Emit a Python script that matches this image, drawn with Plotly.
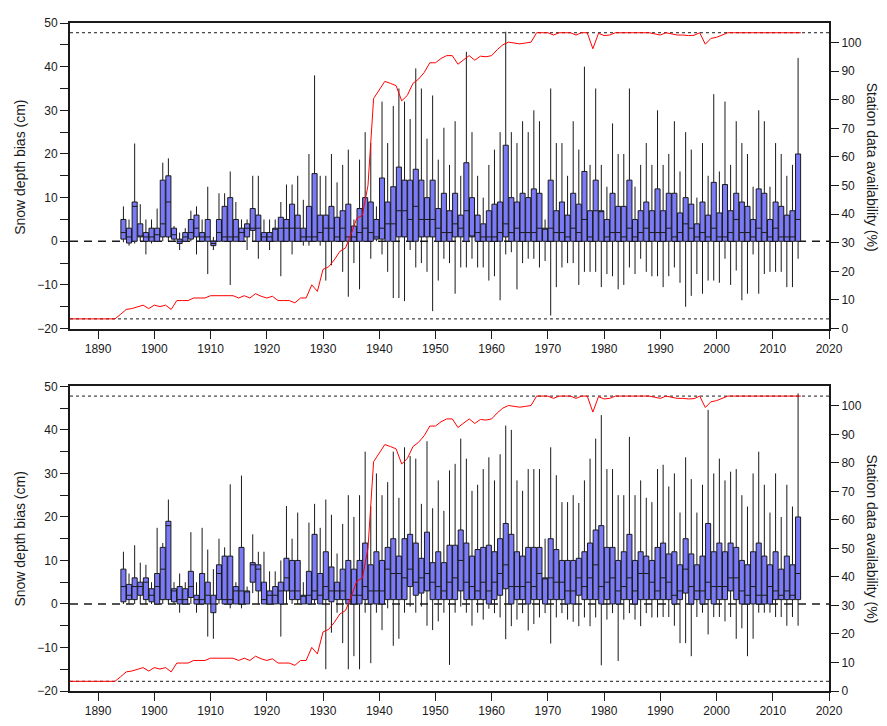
import plotly.graph_objects as go

# ---------------- data ----------------
seasons = list(range(1895, 2016))  # 121 winter seasons (box centred half a year earlier)

top_q3 = [5, 3, 9, 4, 2, 3, 3, 14, 15, 3, 0.5, 2, 5, 6, 2, 5, 0, 5, 8, 10, 5, 3, 4, 7.5, 6, 2, 2, 3, 5.5, 5, 8.5, 6,
          3, 8, 15.5, 6, 6, 8, 5.5, 7, 8.5, 3.5, 7.5, 10, 9, 5, 14.5, 9, 12.5, 17, 14, 14, 16.5, 14, 10, 14, 7.5, 11, 7, 11, 6, 18, 10,
          6, 4, 7, 8.5, 9, 22, 10, 9, 11, 10, 12, 11, 3, 14, 7, 9, 6, 11, 8.5, 16, 7, 14, 7, 5, 11, 8, 8, 14, 5, 7, 9, 7, 12,
          7, 11, 11, 6.5, 10, 8.5, 4, 9, 6, 13.5, 6.5, 13, 7, 11, 9, 8, 5, 12, 11, 5, 9, 8, 6, 7, 20]
top_q1 = [0.5, -0.4, 0, 1, 0, 0, 0, 1, 1, 0.5, -0.5, 0, 0.5, 1, 0, 0, -1, 0, 0, 0, 0, 0, 1, 2.5, 0, 0, 0, 0, 0, 0, 0, 0,
          0, 0, 0, 0, 0, 0, 0, 0, 0, 0, 0, 0, 0, 0.5, 0.5, 0, 0, 1, 1, 0, 0, 1, 1, 1, 0, 0, 0, 1, 1, 0, 1,
          0, 0, 0, 0, 0, 1, 0, 0, 0, 0, 0, 0, 0, 0, 0, 0, 0, 0, 0, 0, 0, 0, 0, 0, 0, 0, 0, 0, 0, 0, 0, 0, 0,
          0, 0, 0, 0, 0, 0, 0, 0, 0, 0, 0, 0, 0, 0, 0, 0, 0, 0, 0, 0, 0, 0, 0, 0, 0]
top_med = [2, 1, 8, 1, 1, 1, 1.5, 4, 9, 1.5, 0, 1, 2, 3, 1, 1, -0.5, 2, 1, 1, 1, 2, 3, 3, 3, 1, 1, 3, 3, 3, 3, 3,
           1, 1, 1, 2, 3, 3, 1, 3, 1, 1, 2, 3, 2, 1, 3, 4, 4, 7, 7, 5, 8, 5, 5, 5, 3, 2, 2, 4, 3, 7, 1,
           2, 1, 1, 1, 2, 4, 2, 3, 2, 2, 2, 3, 3, 3, 2, 2, 1, 3, 2, 5, 1, 7, 7, 1, 2, 2, 1, 3, 1, 2, 3, 2, 2,
           2, 3, 1, 2, 4, 3, 1, 2, 1, 3, 1, 1, 2, 5, 2, 2, 1, 3, 2, 1, 3, 1, 1, 1, 5]
top_hi = [8, 5, 22.4, 8.5, 5, 5, 7.5, 18, 19, 3.5, 2, 3, 7, 8, 5, 12.5, 1, 11, 11, 16, 9, 5, 5, 15, 15, 5, 5, 5, 9, 13, 13, 15,
          9.5, 20, 38, 15, 15, 20, 13.5, 17.5, 21, 5, 18.7, 25, 22.5, 8, 32, 22.5, 31, 35, 32, 28, 39.6, 35, 23.5, 33.4, 18.7, 26, 17.5, 27.5, 15, 43.4, 25,
          15, 10, 17.5, 21, 25, 48, 25, 22.5, 27.5, 25, 30, 27.5, 5, 35, 22.5, 22.5, 15, 27.5, 21, 40, 17.5, 35, 17.5, 12.5, 27, 20, 20, 35, 12.5, 17.5, 22.5, 17.5, 30,
          17.5, 20, 27.5, 16, 25, 21, 10, 22.5, 15, 33.7, 16, 32, 17.5, 27.5, 22.5, 20, 12.5, 30, 27.5, 12.5, 22.5, 20, 15, 17.5, 42]
top_lo = [-0.2, -1, -0.5, 0, -3, -0.5, 0, 0, 0, 0, -2, 0, 0, -3, 0, -7.5, -2, 0, 0, -10, 0, 0, -2, 0, -4, 0, -2, 0, -8, 0, -3, 0,
          -1, -1, 0, -1, -9, -5.5, 0, -7, -12.7, -5, -11, 0, -4, 0, -3, -7, -13, -13, -13.7, -2, -6, -5, -7, -16, -9, -4, -5, -12, -6, -6, -4,
          -6, -6, -9, -8, -13.5, -3, -2.5, -11, -5, -4, -4, -6, -4.5, -17, -10.5, -6, -5, -5, -10, -7, -7, -7, -10.5, -7.5, -8, -11, -10, -6, -7.5, -4, -7, -8, -8,
          -10.5, -8, -6, -9.5, -15, -12.5, -7.5, -12, -9, -9, -9.5, -4, -10, -6.7, -13.5, -12, -3, -12, -7.5, -7, -7, -7, -10.5, -10.5, -4]

bot_q3 = [8, 4.5, 6, 5, 6, 3.5, 7, 13, 19, 3.5, 4, 3.5, 7.5, 2, 7, 5, 2, 9, 11, 11, 4, 13, 3, 9.5, 9, 5, 3, 4, 5, 10.5, 10, 10,
          2, 7.5, 16, 7, 12, 8.5, 5, 8, 10, 8, 10, 14, 9, 12, 10, 13, 15, 11, 15, 16, 14, 10.5, 16.5, 9.5, 12, 9.5, 13.5, 13.5, 17, 14, 11,
          12.5, 13, 13.5, 12, 15, 18.5, 16, 12, 11, 13, 13, 13, 6, 15, 12.5, 10, 10, 10, 10.5, 12, 14, 17, 18, 13, 13, 10, 12, 16, 10, 12, 11, 10, 13,
          14, 11.5, 12, 9, 15, 11.5, 9, 11, 18.5, 12, 14, 12, 14, 13, 10, 9, 12, 14, 11, 9, 12, 8, 11, 9, 20]
bot_q1 = [0.5, 1, 1, 2, 1, 0.5, 0, 1, 1, 0.5, 0, 0, 1.5, 0, 0, 0, -2, 1, 0, 0, 0, 0, 0, 5, 3, 0, 0, 0, 0, 3, 1, 1,
          0, 0, 1, 0, 1, 0.5, 1, 1, 0, 0, 0, 1, 0, 0, 0, 1, 1, 1, 1, 4, 2, 2.5, 3, 1, 1, 1, 1, 1, 3, 1, 1,
          1, 1, 0, 1, 2, 3.5, 0, 1, 1, 0, 1, 1, 0, 1, 1, 1, 0, 0, 2, 1, 1, 1, 0, 1, 0, 0, 1, 1, 0, 1, 1, 1, 1,
          1, 1, 0, 1, 2.5, 0, 1, 0, 1, 0, 1, 1, 3, 1, 0, 0, 0, 0, 0, 0, 1, 1, 1, 1, 1]
bot_med = [4, 2, 4, 4, 5, 2, 4, 8, 18, 3, 1, 1, 4, 1, 1, 2, 0, 7, 1, 1, 3, 3, 3, 9, 8, 1, 2, 2, 3, 6, 3, 3,
           2, 2, 3, 2, 4, 3, 3, 3, 1, 2, 2, 4, 3, 3, 3, 8, 7, 7, 6, 8, 5, 6, 7, 5, 4, 3, 5, 6, 10, 5, 4,
           3, 5, 3, 5, 7, 9, 4, 4, 4, 5, 4, 7, 6, 6, 5, 5, 3, 3, 6, 4, 6, 9, 4, 5, 6, 3, 4, 6, 3, 7, 7, 5, 3,
           6, 5, 2, 3, 8, 4, 3, 3, 5, 4, 4, 4, 6, 6, 3, 2, 4, 2, 2, 4, 3, 2, 3, 2, 7]
bot_hi = [12, 7, 13.5, 9.5, 9, 5, 17.5, 14, 24, 5, 7, 5, 16.5, 5, 17.5, 12.5, 8, 15, 13, 27.5, 5, 29.5, 4, 16, 12, 12, 7.5, 7.5, 10, 22.5, 15, 21,
          5, 18.7, 23, 17.5, 24, 20.5, 11.6, 18.4, 25, 20, 25, 35, 22.4, 30, 25, 28, 35, 24.4, 36, 34, 33.4, 23, 37.4, 22, 28.4, 21.4, 30.7, 32.2, 38, 33.4, 26,
          27.4, 31, 33.7, 28.4, 34.4, 41, 40, 28.4, 26, 31, 31, 31, 15, 36, 29.6, 23.4, 23.4, 25, 23.2, 28.4, 33.4, 38, 43.4, 31, 31, 25, 25, 38.4, 25, 28.4, 24.4, 23.4, 31,
          32, 27, 30, 21, 33.7, 28.7, 21, 27.4, 44.6, 30, 33.4, 28.4, 30.4, 31, 25, 22.4, 30, 35, 27.4, 21, 30, 20, 27.4, 22.4, 48.4]
bot_lo = [0, 0, 0, 0, 0, 0, 0, 0, 0, 0, -2, 0, 0, -2, 0, -7.5, -8, 0, 0, -1, 0, -1, 0, 2.5, 0, 0, 0, 0, -7.5, 0, 0, 0,
          0, 0, 0, 0, -15, -6.6, -2, -9, -15, -12, -15, -2, -13.6, -2, -6, -1, -9.6, -8, -2, -0.6, -2, -0.6, -5, -6, -4, -2, -14, -2, -0.6, -2, -5,
          -2, -3.6, -1.1, -2.1, -3.1, -8.1, -5.1, -3.6, -2.1, -6.1, -4.6, -3.1, -2.1, -9.1, -3.1, -2.1, -3.6, -4.1, -5.1, -3.1, -5.1, -3.1, -14.1, -3.6, -2.1, -13.1, -3.6, -2.1, -3.6, -5.1, -2.1, -3.1, -3.1,
          -3, -3, -5, -9, -9, -12, -3, -2, -7, -3, -3, -4, -3, -8, -5.6, -12, -8, -2, -2, -2, -3, -3, -5, -3, -5]

avail_years = list(range(1885, 2016))
availability = [3.4, 3.4, 3.4, 3.4, 3.4, 3.4, 3.4, 3.4, 3.4,
                5.0, 6.7, 7.0, 7.5, 8.2, 7.0, 8.2, 7.7, 8.2, 6.7,
                9.8, 9.8, 9.8, 10.7, 10.7, 10.7, 11.5, 11.5, 11.5, 11.5,
                11.5, 10.7, 11.5, 10.7, 12.2, 11.3, 10.7, 11.3, 9.8, 9.8,
                9.8, 9.0, 10.7, 10.7, 15.3, 13.0, 20.7, 21.6, 24.0, 27.0,
                28.2, 33.0, 38.5, 39.6, 50.0, 80.4, 83.5, 86.4, 85.7, 84.9,
                79.6, 81.5, 85.7, 87.2, 89.5, 92.9, 92.9, 94.4, 95.4, 95.4,
                92.4, 93.8, 95.4, 93.8, 95.2, 95.0, 95.4, 97.5, 99.2, 100.1,
                99.8, 99.5, 99.8, 100.1, 103.4, 103.4, 103.4, 102.6, 103.4, 103.4,
                103.4, 102.6, 103.4, 103.4, 97.8, 103.2, 102.4, 102.6, 103.4, 103.4,
                103.4, 103.4, 103.4, 103.4, 103.4, 103.0, 102.6, 103.4, 103.0, 102.6,
                102.6, 102.4, 102.5, 103.4, 99.4, 101.4, 101.8, 102.6, 103.4, 103.4,
                103.4, 103.4, 103.4, 103.4, 103.4, 103.4, 103.4, 103.4, 103.4, 103.4, 103.4, 103.4]

x_ticks = list(range(1890, 2021, 10))
left_ticks = list(range(-20, 51, 10))
right_ticks = list(range(0, 101, 10))
ref_levels = [3.4, 103.4]   # dotted reference lines (availability axis)

# ---------------- figure ----------------
FONT = "Liberation Sans, Arial, Helvetica, sans-serif"
BOX_FILL = "rgb(122,122,246)"
INK = "#1a1a1a"
box_x = [s - 0.5 for s in seasons]

fig = go.Figure()

panels = [
    dict(q3=top_q3, q1=top_q1, med=top_med, hi=top_hi, lo=top_lo, xa="x", ya="y", ya2="y2"),
    dict(q3=bot_q3, q1=bot_q1, med=bot_med, hi=bot_hi, lo=bot_lo, xa="x2", ya="y3", ya2="y4"),
]

for p in panels:
    fig.add_trace(go.Box(
        x=box_x, q1=p["q1"], median=p["med"], q3=p["q3"],
        lowerfence=p["lo"], upperfence=p["hi"],
        width=0.9, whiskerwidth=0, boxpoints=False,
        fillcolor=BOX_FILL, line=dict(color=INK, width=1),
        xaxis=p["xa"], yaxis=p["ya"], showlegend=False, hoverinfo="skip"))
    fig.add_trace(go.Scatter(
        x=avail_years, y=availability, mode="lines",
        line=dict(color="red", width=1),
        xaxis=p["xa"], yaxis=p["ya2"], showlegend=False, hoverinfo="skip"))
    # dashed zero line on bias axis
    fig.add_shape(type="line", xref=p["xa"] + " domain", yref=p["ya"],
                  x0=0, x1=1, y0=0, y1=0, layer="below",
                  line=dict(color=INK, width=1.6, dash="8px,6px"))
    for lv in ref_levels:
        fig.add_shape(type="line", xref=p["xa"] + " domain", yref=p["ya2"],
                      x0=0, x1=1, y0=lv, y1=lv, layer="below",
                      line=dict(color=INK, width=1, dash="dot"))

axis_common = dict(showgrid=False, zeroline=False, ticks="outside", ticklen=8,
                   tickwidth=1, tickcolor=INK, showline=True, linecolor=INK,
                   linewidth=2, tickfont=dict(size=12, color=INK, family=FONT))

top_dom = [0.5425, 1.0]
bot_dom = [0.0, 0.456]

# the page body adds an 8 px offset, so the figure is sized to fit inside the window
fig.update_layout(
    width=879, height=718,
    margin=dict(l=62, r=58, t=8, b=28),
    paper_bgcolor="white", plot_bgcolor="white",
    font=dict(family=FONT, size=12, color=INK),
    xaxis=dict(domain=[0, 1], anchor="y", range=[1885, 2020], tickvals=x_ticks, mirror=True, **axis_common),
    yaxis=dict(domain=top_dom, anchor="x", range=[-20, 50], tickvals=left_ticks, mirror=True,
               minor=dict(dtick=5, tick0=0, ticks="outside", ticklen=8, tickcolor=INK, showgrid=False),
               **axis_common),
    yaxis2=dict(overlaying="y", anchor="x", side="right", range=[0, 106.8], tickvals=right_ticks, **axis_common),
    xaxis2=dict(domain=[0, 1], anchor="y3", range=[1885, 2020], tickvals=x_ticks, mirror=True, **axis_common),
    yaxis3=dict(domain=bot_dom, anchor="x2", range=[-20, 50], tickvals=left_ticks, mirror=True,
                minor=dict(dtick=5, tick0=0, ticks="outside", ticklen=8, tickcolor=INK, showgrid=False),
                **axis_common),
    yaxis4=dict(overlaying="y3", anchor="x2", side="right", range=[0, 106.8], tickvals=right_ticks, **axis_common),
)

title_font = dict(family=FONT, size=14, color=INK)
for yc in (0.7845, 0.228):
    fig.add_annotation(text="Snow depth bias (cm)", xref="paper", yref="paper",
                       x=-0.066, y=yc, textangle=-90, showarrow=False,
                       xanchor="center", yanchor="middle", font=title_font)
    fig.add_annotation(text="Station data availability (%)", xref="paper", yref="paper",
                       x=1.057, y=yc, textangle=90, showarrow=False,
                       xanchor="center", yanchor="middle", font=title_font)

fig.write_html("out.html")
